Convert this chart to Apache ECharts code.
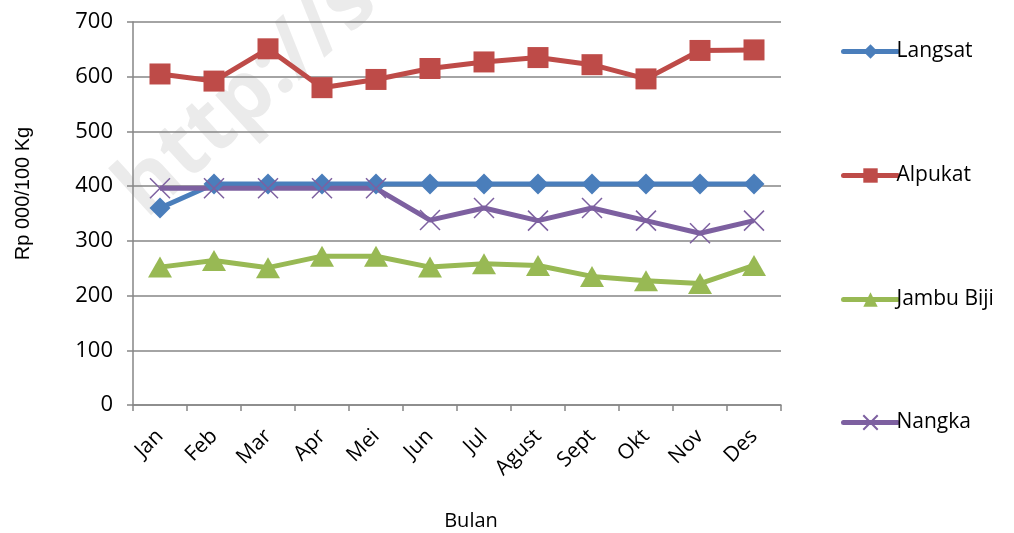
<!DOCTYPE html>
<html>
<head>
<meta charset="utf-8">
<script src="https://cdn.jsdelivr.net/npm/echarts@6/dist/echarts.min.js"></script>
<style>html,body{margin:0;padding:0;background:#fff;}#c{width:1014px;height:533px;}</style>
</head>
<body>
<div id="c"></div>
<script>
const months = ['Jan','Feb','Mar','Apr','Mei','Jun','Jul','Agust','Sept','Okt','Nov','Des'];
const langsat = [360,404,404,404,404,404,404,404,404,404,404,404];
const alpukat = [605,592,651,580,595,615,627,635,622,596,648,649];
const jambuBiji = [252,264,251,272,272,252,258,255,235,227,222,255];
const nangka = [396,396,396,396,396,338,360,337,360,337,314,337];
const yTicks = {min:0, max:700, interval:100};

const FONT = 'Open Sans';
const chart = echarts.init(document.getElementById('c'), null, {renderer:'canvas'});
const crossPath = 'path://M0,0L10,10M10,0L0,10';
const names = ['Langsat','Alpukat','Jambu Biji','Nangka'];
const legendTops = [36,160,284,407];
chart.setOption({
  animation:false,
  backgroundColor:'#fff',
  textStyle:{fontFamily:FONT},
  graphic:[{
    type:'text', left:102, top:-42, rotation: Math.PI*0.235, z:-10,
    style:{text:'http://s', fill:'#ebebeb', font:'bold 84px "Open Sans"'}
  }],
  grid:{left:133, right:233, top:22, bottom:128, outerBoundsMode:'none', containLabel:false},
  legend: names.map((n,i)=>({
    data:[n], orient:'vertical', left:836, top:legendTops[i],
    itemWidth:54, itemHeight:18, itemGap:0,
    lineStyle:{width:5, cap:'round'},
    textStyle:{fontFamily:FONT, fontSize:21, color:'#000', padding:[0,0,0,-6]}
  })),
  xAxis:{
    type:'category', data:months, boundaryGap:true,
    axisLine:{lineStyle:{color:'#868686', width:1.5}},
    axisTick:{show:true, alignWithLabel:false, interval:0, length:6, lineStyle:{color:'#868686', width:1.5}},
    axisLabel:{rotate:45, interval:0, fontFamily:FONT, fontSize:21, color:'#000', margin:28},
    name:'Bulan', nameLocation:'middle', nameGap:106,
    nameTextStyle:{fontFamily:FONT, fontSize:20, color:'#000', padding:[0,0,0,28]}
  },
  yAxis:{
    type:'value', min:yTicks.min, max:yTicks.max, interval:yTicks.interval,
    axisLine:{show:true, lineStyle:{color:'#868686', width:1.5}},
    axisTick:{show:true, length:6, lineStyle:{color:'#868686', width:1.5}},
    splitLine:{show:true, lineStyle:{color:'#868686', width:1.5}},
    axisLabel:{fontFamily:FONT, fontSize:22, color:'#000', margin:20},
    name:'Rp 000/100 Kg', nameLocation:'middle', nameGap:100, nameRotate:90,
    nameTextStyle:{fontFamily:'Liberation Sans', fontSize:20, color:'#000', padding:[0,0,0,40]}
  },
  series:[
    {name:'Langsat', type:'line', data:langsat, symbol:'diamond', symbolSize:21,
     lineStyle:{color:'#4A7EBB', width:5}, itemStyle:{color:'#4A7EBB'}},
    {name:'Alpukat', type:'line', data:alpukat, symbol:'rect', symbolSize:21,
     lineStyle:{color:'#BE4B48', width:5}, itemStyle:{color:'#BE4B48'}},
    {name:'Jambu Biji', type:'line', data:jambuBiji, symbol:'triangle', symbolSize:[24,21],
     lineStyle:{color:'#98B954', width:5}, itemStyle:{color:'#98B954'}},
    {name:'Nangka', type:'line', data:nangka, symbol:crossPath, symbolSize:20,
     lineStyle:{color:'#7D60A0', width:5}, itemStyle:{color:'#7D60A0', borderColor:'#7D60A0', borderWidth:1.5}}
  ]
});
</script>
</body>
</html>
